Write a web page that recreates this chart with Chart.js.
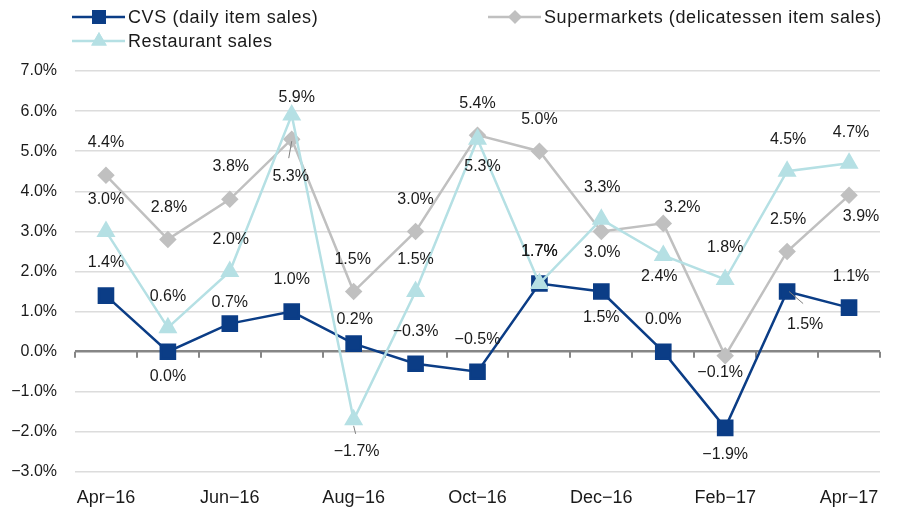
<!DOCTYPE html>
<html>
<head>
<meta charset="utf-8">
<script src="https://cdn.jsdelivr.net/npm/chart.js@4"></script>
<style>
  body { margin: 0; background: #fff; }
  #wrap { width: 898px; height: 508px; }
</style>
</head>
<body>
<div id="wrap"><canvas id="lineChart" width="898" height="508"></canvas></div>
<script>
// months on the x axis, only every other one is labelled
var months = ["Apr-16","May-16","Jun-16","Jul-16","Aug-16","Sep-16","Oct-16","Nov-16","Dec-16","Jan-17","Feb-17","Mar-17","Apr-17"];
var cvsSales = [1.4, 0.0, 0.7, 1.0, 0.2, -0.3, -0.5, 1.7, 1.5, 0.0, -1.9, 1.5, 1.1];
var superSales = [4.4, 2.8, 3.8, 5.3, 1.5, 3.0, 5.4, 5.0, 3.0, 3.2, -0.1, 2.5, 3.9];
var restSales = [3.0, 0.6, 2.0, 5.9, -1.7, 1.5, 5.3, 1.7, 3.3, 2.4, 1.8, 4.5, 4.7];
var seriesNames = ["CVS (daily item sales)", "Supermarkets (delicatessen item sales)", "Restaurant sales"];

// label offsets (dx, dy) from each point
var cvsLblPos = [[0,-33],[0,25],[0,-21],[0,-32],[1,-24],[0,-32],[0,-32],[0,-32],[0,26],[0,-32],[0,27],[18,33],[2,-31]];
var superLblPos = [[0,-33],[1,-32],[1,-33],[-1,37],[-1,-32],[0,-32],[0,-32],[0,-32],[1,21],[19,-16],[-5,17],[1,-32],[12,21]];
var restLblPos = [[0,-32],[0,-31],[1,-32],[5,-18],[3,32],[0,-32],[5,27],[0,-32],[1,-32],[-4,21],[0,-32],[1,-32],[2,-31]];
// small leader lines: dataset, point, from offset, to offset
var leaders = [[1,3,[0,2],[-3,19]], [2,4,[0,6],[2,14]], [0,11,[2,0],[16,12]]];

var fontFam = "'Liberation Sans', Arial, sans-serif";
var minus = function(s){ return s.replace("-", "\u2212"); };

var labelPlugin = {
  id: "pointLabels",
  afterDatasetsDraw: function(chart){
    var ctx = chart.ctx;
    var pos = [cvsLblPos, superLblPos, restLblPos];
    ctx.save();
    ctx.strokeStyle = "#7f7f7f";
    ctx.lineWidth = 1;
    leaders.forEach(function(l){
      var p = chart.getDatasetMeta(l[0]).data[l[1]];
      ctx.beginPath();
      ctx.moveTo(p.x + l[2][0], p.y + l[2][1]);
      ctx.lineTo(p.x + l[3][0], p.y + l[3][1]);
      ctx.stroke();
    });
    ctx.font = "16px " + fontFam;
    ctx.fillStyle = "#1a1a1a";
    ctx.textAlign = "center";
    ctx.textBaseline = "middle";
    chart.data.datasets.forEach(function(ds, di){
      var meta = chart.getDatasetMeta(di);
      meta.data.forEach(function(p, i){
        var o = pos[di][i];
        ctx.fillText(minus(ds.data[i].toFixed(1)) + "%", p.x + o[0], p.y + o[1]);
      });
    });
    ctx.restore();
  }
};

var axisTicks = {
  id: "zeroTicks",
  beforeDatasetsDraw: function(chart){
    var ctx = chart.ctx, x = chart.scales.x, y = chart.scales.y;
    var y0 = y.getPixelForValue(0);
    var step = (x.right - x.left) / months.length;
    ctx.save();
    ctx.strokeStyle = "#868686";
    ctx.lineWidth = 2;
    for (var i = 0; i <= months.length; i++){
      var px = Math.round(x.left + i*step);
      ctx.beginPath();
      ctx.moveTo(px, y0);
      ctx.lineTo(px, y0 + 6);
      ctx.stroke();
    }
    ctx.restore();
  }
};

var legendPlugin = {
  id: "sideLegend",
  afterDraw: function(chart){
    var ctx = chart.ctx;
    var spots = [[72,17],[488,17],[72,41]];
    ctx.save();
    chart.data.datasets.forEach(function(ds, di){
      var s = spots[di];
      ctx.strokeStyle = ds.borderColor;
      ctx.lineWidth = ds.borderWidth;
      ctx.beginPath();
      ctx.moveTo(s[0], s[1]);
      ctx.lineTo(s[0] + 53, s[1]);
      ctx.stroke();
      Chart.helpers.drawPoint(ctx, {
        pointStyle: ds.pointStyle, radius: ds.pointRadius - 2, rotation: 0,
        borderWidth: 1
      }, s[0] + 27, s[1]);
      ctx.fillStyle = ds.pointBackgroundColor;
      ctx.strokeStyle = ds.pointBackgroundColor;
      ctx.fill(); ctx.stroke();
      ctx.fillStyle = "#1a1a1a";
      ctx.font = "18px " + fontFam;
      ctx.letterSpacing = "0.6px";
      ctx.textAlign = "left";
      ctx.textBaseline = "middle";
      ctx.fillText(seriesNames[di], s[0] + 56, s[1] + 1);
    });
    ctx.restore();
  }
};

new Chart("lineChart", {
  type: "line",
  data: {
    labels: months,
    datasets: [{
      label: seriesNames[0],
      data: cvsSales,
      borderColor: "#0b3d86",
      backgroundColor: "#0b3d86",
      pointBackgroundColor: "#0b3d86",
      pointBorderColor: "#0b3d86",
      pointStyle: "rect",
      pointRadius: 10,
      borderWidth: 2.5,
      order: 3
    }, {
      label: seriesNames[1],
      data: superSales,
      borderColor: "#c0c0c0",
      backgroundColor: "#c0c0c0",
      pointBackgroundColor: "#c0c0c0",
      pointBorderColor: "#c0c0c0",
      pointStyle: "rectRot",
      pointRadius: 7,
      borderWidth: 2.5,
      order: 2
    }, {
      label: seriesNames[2],
      data: restSales,
      borderColor: "#b5e0e4",
      backgroundColor: "#b5e0e4",
      pointBackgroundColor: "#b5e0e4",
      pointBorderColor: "#b5e0e4",
      pointStyle: "triangle",
      pointRadius: 8.5,
      borderWidth: 2.5,
      order: 1
    }]
  },
  options: {
    responsive: false,
    animation: false,
    layout: { padding: { top: 71, right: 18, left: 0, bottom: 0 } },
    plugins: { legend: { display: false }, tooltip: { enabled: false } },
    scales: {
      x: {
        offset: true,
        grid: { display: false, drawTicks: false },
        border: { display: false },
        ticks: {
          autoSkip: false, maxRotation: 0, padding: 15,
          color: "#1a1a1a",
          font: { family: fontFam, size: 18 },
          callback: function(v, i){ return i % 2 === 0 ? minus(months[i]) : ""; }
        },
        afterFit: function(s){ s.height = 36; }
      },
      y: {
        min: -3, max: 7,
        border: { display: false },
        grid: {
          drawTicks: false,
          color: function(c){ return c.tick.value === 0 ? "#868686" : "#dcdcdc"; },
          lineWidth: function(c){ return c.tick.value === 0 ? 2.5 : 1.5; }
        },
        ticks: {
          stepSize: 1, padding: 18,
          color: "#1a1a1a",
          font: { family: fontFam, size: 16 },
          callback: function(v){ return minus(v.toFixed(1)) + "%"; }
        },
        afterFit: function(s){ s.width = 75; }
      }
    }
  },
  plugins: [axisTicks, labelPlugin, legendPlugin]
});
</script>
</body>
</html>
